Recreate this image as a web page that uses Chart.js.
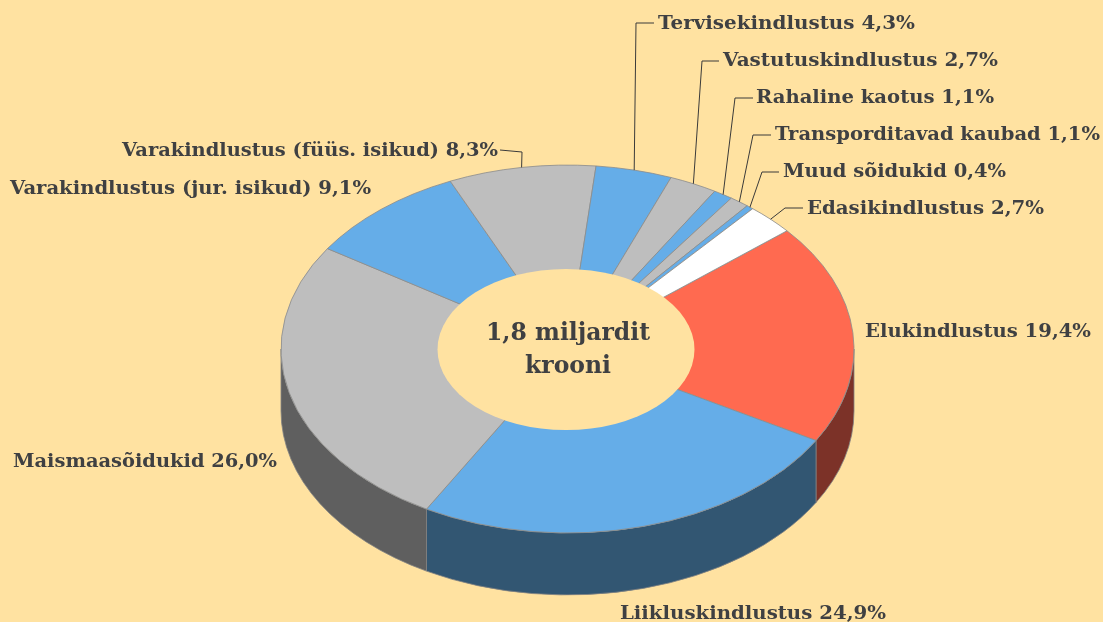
<!DOCTYPE html>
<html>
<head>
<meta charset="utf-8">
<style>
html,body{margin:0;padding:0;background:#FFE2A1;}
canvas{display:block;}
</style>
<script src="https://cdn.jsdelivr.net/npm/chart.js@4"></script>
</head>
<body>
<canvas id="c" width="1103" height="622"></canvas>
<script>
const categories = ["Elukindlustus","Liikluskindlustus","Maismaasõidukid","Varakindlustus (jur. isikud)","Varakindlustus (füüs. isikud)","Tervisekindlustus","Vastutuskindlustus","Rahaline kaotus","Transporditavad kaubad","Muud sõidukid","Edasikindlustus"];
const shares = [19.4,24.9,26.0,9.1,8.3,4.3,2.7,1.1,1.1,0.4,2.7];
const topColors = ["#FF6A50","#65ADE8","#BEBEBE","#65ADE8","#BEBEBE","#65ADE8","#BEBEBE","#65ADE8","#BEBEBE","#65ADE8","#FFFFFF"];
const sideColors = ["#7C3228","#325672","#5F5F5F","#325672","#5F5F5F","#325672","#5F5F5F","#325672","#5F5F5F","#325672","#808080"];
const centerLines = ["1,8 miljardit","krooni"];
// label anchor: [x, y, align, elbow points leading toward the slice]
const labelAnchors = [
 [865,332,"left",null],
 [620,614,"left",null],
 [13,462,"left",null],
 [10,189,"left",null],
 [122,151,"left",[[500,150],[522,152]]],
 [658,24,"left",[[654,23],[636,23]]],
 [723,61,"left",[[719,61],[702,61]]],
 [756,98,"left",[[753,98],[735,98]]],
 [775,135,"left",[[771,135],[753,135]]],
 [783,172,"left",[[779,172],[762,172]]],
 [807,209,"left",[[803,208],[785,208]]]
];
const labelWidths = [226,266,264,361,376,257,275,238,325,223,237];
const TILT = 0.642, DEPTH = 62;
const HOLE_RX = 0.4485, HOLE_RY = 0.281;
const FONT = 'bold 18px "DejaVu Serif"';
const TEXT = "#3F4042";
const BG = "#FFE2A1";

function wall(ctx,cx,cy,R,a0,a1,color){
  ctx.beginPath();
  ctx.ellipse(cx,cy,R,R*TILT,0,a0,a1,false);
  ctx.ellipse(cx,cy+DEPTH,R,R*TILT,0,a1,a0,true);
  ctx.closePath();
  ctx.fillStyle=color;ctx.fill();
  ctx.lineWidth=1;ctx.strokeStyle="rgba(130,130,130,0.8)";ctx.stroke();
}
const tiltPlugin = {
  id:"tilt",
  beforeDatasetsDraw(chart){
    const ctx=chart.ctx, meta=chart.getDatasetMeta(0);
    const p=meta.data[0];
    const cx=p.x, cy=p.y;
    meta.data.forEach((arc,i)=>{
      const R=arc.outerRadius;
      [[0,Math.PI],[2*Math.PI,3*Math.PI]].forEach(([lo,hi])=>{
        const a0=Math.max(arc.startAngle,lo), a1=Math.min(arc.endAngle,hi);
        if(a1>a0) wall(ctx,cx,cy,R,a0,a1,sideColors[i]);
      });
    });
    ctx.save();
    ctx.translate(cx,cy);ctx.scale(1,TILT);ctx.translate(-cx,-cy);
  },
  afterDatasetsDraw(chart){
    const ctx=chart.ctx, meta=chart.getDatasetMeta(0);
    ctx.restore();
    const p=meta.data[0], cx=p.x, cy=p.y, R=p.outerRadius;
    // plain hole without outline, slightly off-centre as in the reference
    ctx.beginPath();
    ctx.ellipse(cx-1.5,cy+0.5,R*HOLE_RX,R*HOLE_RY,0,0,2*Math.PI);
    ctx.fillStyle=BG;ctx.fill();
    ctx.save();
    ctx.textBaseline="middle";
    ctx.font=FONT;
    categories.forEach((name,i)=>{
      const a=labelAnchors[i], arc=meta.data[i];
      const mid=(arc.startAngle+arc.endAngle)/2;
      const ex=cx+arc.outerRadius*Math.cos(mid), ey=cy+arc.outerRadius*TILT*Math.sin(mid);
      if(a[3]){
        ctx.beginPath();
        ctx.moveTo(a[3][0][0],a[3][0][1]);
        ctx.lineTo(a[3][1][0],a[3][1][1]);
        ctx.lineTo(ex,ey);
        ctx.strokeStyle="#3a3a3a";ctx.lineWidth=1;ctx.stroke();
      }
      const txt=name+" "+shares[i].toFixed(1).replace(".",",")+"%";
      const w=ctx.measureText(txt).width;
      ctx.save();
      ctx.translate(a[0],a[1]);
      ctx.scale(labelWidths[i]/w,1);
      ctx.fillStyle=TEXT;ctx.textAlign="left";
      ctx.fillText(txt,0,0);
      ctx.restore();
    });
    ctx.textAlign="center";
    ctx.font='bold 23.5px "DejaVu Serif"';
    ctx.fillStyle=TEXT;
    ctx.fillText(centerLines[0],568,334);
    ctx.beginPath();ctx.rect(500,350,140,24.5);ctx.clip();
    ctx.fillText(centerLines[1],568,367);
    ctx.restore();
  }
};
new Chart(document.getElementById("c"),{
  type:"doughnut",
  data:{labels:categories,datasets:[{data:shares,backgroundColor:topColors,borderColor:"#8C8C8C",borderWidth:1,clip:false}]},
  options:{
    responsive:false,animation:false,
    rotation:50,cutout:"40%",radius:286.5,
    layout:{padding:{left:32,top:76}},
    plugins:{legend:{display:false},tooltip:{enabled:false},title:{display:false}}
  },
  plugins:[tiltPlugin]
});
</script>
</body>
</html>
